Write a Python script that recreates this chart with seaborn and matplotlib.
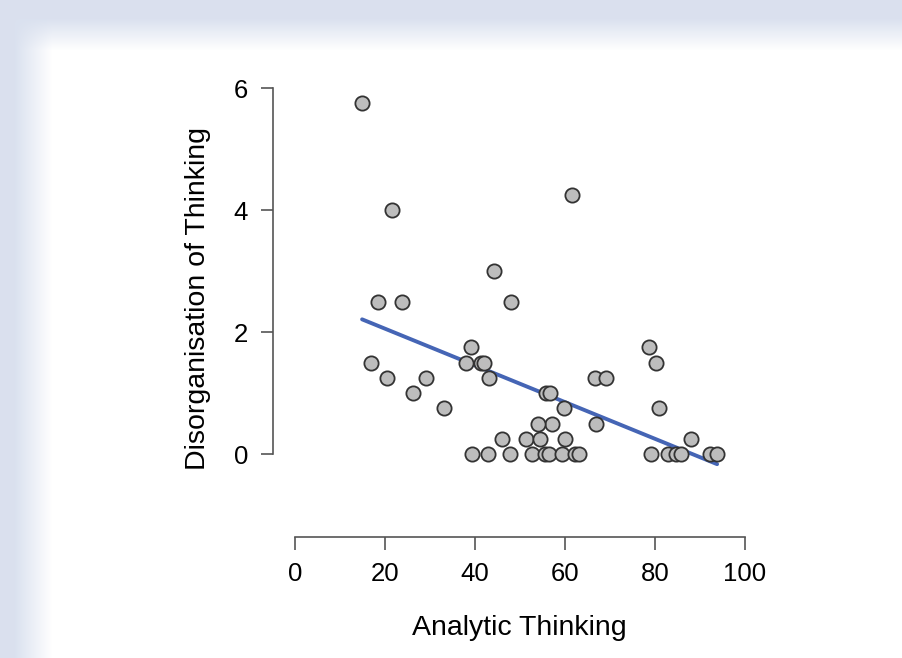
import matplotlib
matplotlib.use("Agg")
import matplotlib.pyplot as plt
import seaborn as sns
import numpy as np
import pandas as pd

# Analytic Thinking vs Disorganisation of Thinking
analytic = [14.9, 21.6, 18.4, 23.8, 44.2, 48.0, 61.6,
            16.9, 20.4, 26.2, 29.1, 33.1, 39.1, 38.0, 41.3, 42.0, 43.1,
            55.8, 56.6, 59.8, 57.0, 54.0, 46.0, 51.3, 54.4, 60.0,
            39.3, 42.9, 47.8, 52.7, 55.6, 56.4, 59.3, 62.2, 63.1,
            66.7, 69.1, 66.9, 78.7, 80.2, 80.9, 79.1,
            82.9, 84.7, 85.8, 88.0, 92.2, 93.8]
disorg = [5.75, 4.0, 2.5, 2.5, 3.0, 2.5, 4.25,
          1.5, 1.25, 1.0, 1.25, 0.75, 1.75, 1.5, 1.5, 1.5, 1.25,
          1.0, 1.0, 0.75, 0.5, 0.5, 0.25, 0.25, 0.25, 0.25,
          0.0, 0.0, 0.0, 0.0, 0.0, 0.0, 0.0, 0.0, 0.0,
          1.25, 1.25, 0.5, 1.75, 1.5, 0.75, 0.0,
          0.0, 0.0, 0.0, 0.25, 0.0, 0.0]

x_ticks = [0, 20, 40, 60, 80, 100]
y_ticks = [0, 2, 4, 6]

df = pd.DataFrame({"Analytic Thinking": analytic,
                   "Disorganisation of Thinking": disorg})

sns.set_style("white")
plt.rcParams['font.family'] = ['Liberation Sans', 'DejaVu Sans']

W, H = 903, 658
fig = plt.figure(figsize=(W / 100, H / 100), dpi=100)

# soft blue frame around a white panel
bg = fig.add_axes([0, 0, 1, 1])
xx, yy = np.meshgrid(np.arange(W), np.arange(H))
wx = np.clip((xx - 14) / 38.0, 0, 1)
wy = np.clip((yy - 18) / 32.0, 0, 1)
w = (wx * wy)[..., None]
base = np.array([0.855, 0.882, 0.937])
img = base * (1 - w) + np.ones(3) * w
bg.imshow(img, aspect="auto", extent=[0, 1, 0, 1], origin="upper")
bg.axis("off")

ax = fig.add_axes([273 / W, 121 / H, (754 - 273) / W, (576 - 121) / H])
ax.patch.set_alpha(0)

sns.regplot(data=df, x="Analytic Thinking", y="Disorganisation of Thinking",
            ci=None, ax=ax,
            scatter_kws=dict(s=105, color="#bdbdbd", edgecolor="#333333",
                             linewidths=1.3, alpha=1, zorder=3),
            line_kws=dict(color="#4565b5", lw=2.8, zorder=2))

ax.set_xlim(-4.9, 102)
ax.set_ylim(-1.36, 6.1)
ax.set_xticks(x_ticks)
ax.set_yticks(y_ticks)
sns.despine(ax=ax)
ax.spines['left'].set_bounds(0, 6)
ax.spines['bottom'].set_bounds(0, 100)
for s in ['left', 'bottom']:
    ax.spines[s].set_color("#555555")
    ax.spines[s].set_linewidth(1.2)
ax.tick_params(direction='out', length=9, width=1.2, color="#555555",
               labelsize=18.5, labelcolor="black", pad=9, left=True, bottom=True)
ax.set_xlabel("Analytic Thinking", fontsize=20.5, color="black")
ax.set_ylabel("Disorganisation of Thinking", fontsize=20.5, color="black")
ax.xaxis.set_label_coords(0.512, -0.172)
ax.yaxis.set_label_coords(-0.128, 0.525)

fig.savefig("out.png", dpi=100)
